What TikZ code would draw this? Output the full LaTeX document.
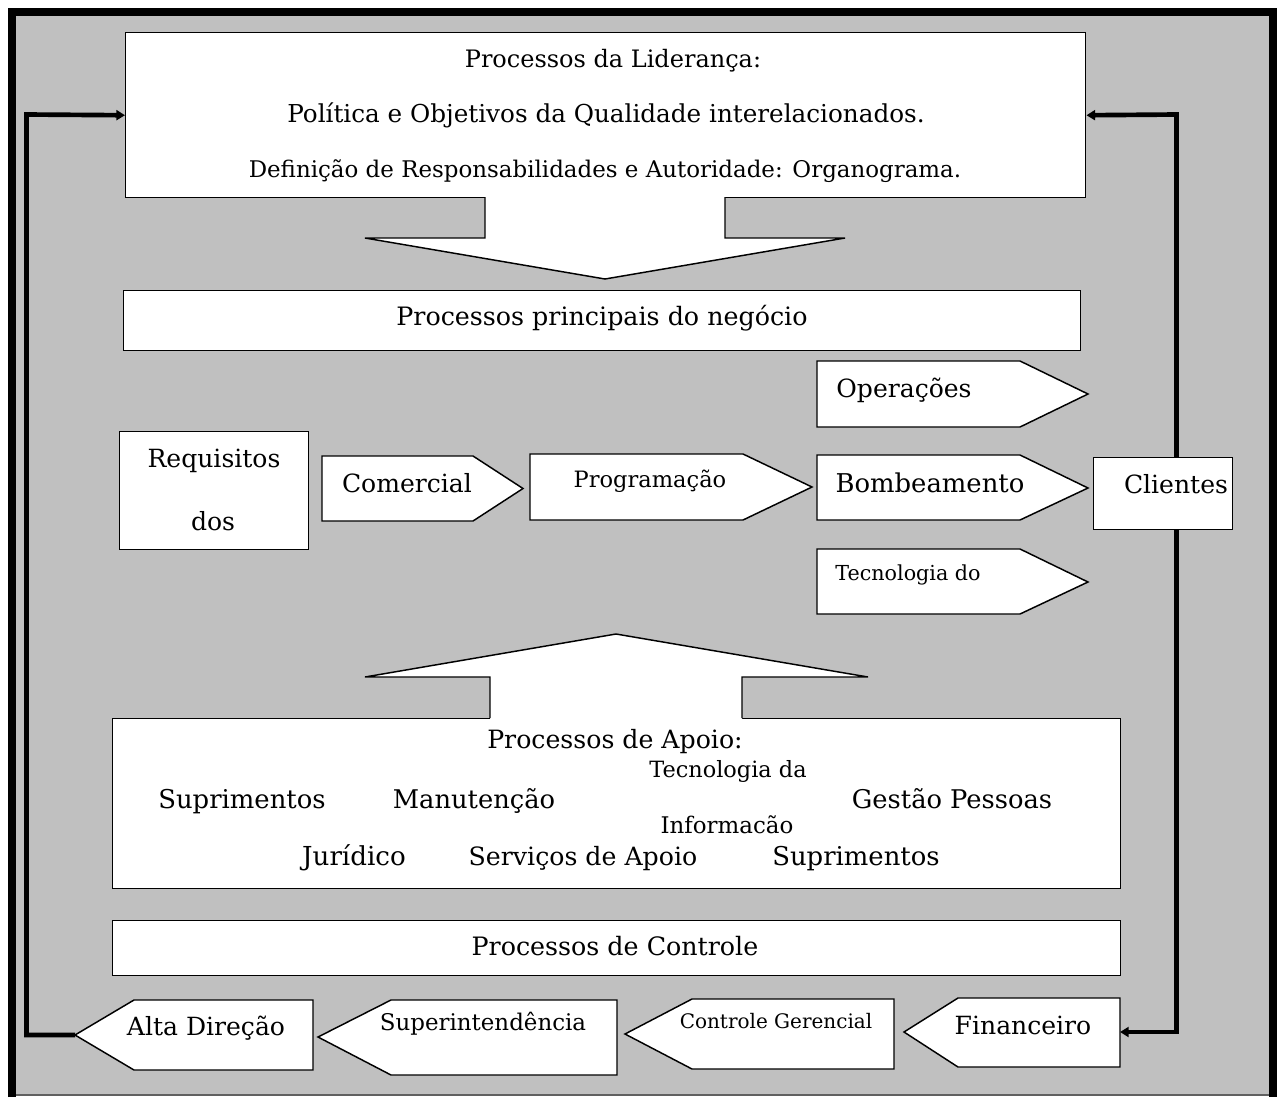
\documentclass[tikz,border=0pt]{standalone}
\usepackage{fontspec}
\setmainfont{DejaVu Serif}
\usetikzlibrary{arrows.meta}
\definecolor{panel}{RGB}{192,192,192}
\definecolor{rim}{RGB}{96,96,96}
\newcommand\setfs[1]{\fontsize{#1pt}{#1pt}\selectfont}
\begin{document}
\begin{tikzpicture}[x=0.75pt,y=-0.75pt,
  box/.style={draw, fill=white, line width=1.1pt, inner sep=0, anchor=north west},
  pent/.style={draw, fill=white, line width=1.1pt, line join=miter},
  blockarrow/.style={draw, line width=1.1pt, line join=miter},
  txt/.style={inner sep=0, anchor=base},
  fb/.style={line width=3.5pt, -{Triangle[length=6.5pt,width=7.5pt]}}]

% page and panel
\fill[white] (0,0) rectangle (1279,1097);
\useasboundingbox (0,0) rectangle (1279,1097);
\fill[panel] (12,12) rectangle (1273,1095);
\draw[rim, line width=0.9pt] (12,1095) -- (1273,1095);
\draw[line width=6pt, line join=miter] (12,1097) -- (12,12) -- (1273,12) -- (1273,1097);

% feedback rails
\coordinate (railL) at (26.5,114.5);
\coordinate (railR) at (1176.5,114.5);
\coordinate (altaTip) at (75,1035);
\coordinate (finEnd) at (1120,1032);

% leadership box
\node[box, minimum width=720pt, minimum height=123.75pt] (lead) at (125,32) {};
\fill[white] (485,190) -- (485,238) -- (365,238) -- (605,279) -- (845,238) -- (725,238) -- (725,190) -- cycle;
\draw[blockarrow] (485,197) -- (485,238) -- (365,238) -- (605,279) -- (845,238) -- (725,238) -- (725,197);
\node[txt] (lead1) at (613,67) {\setfs{18}Processos da Liderança:};
\node[txt] (lead2) at (606,122) {\setfs{18.5}Política e Objetivos da Qualidade interelacionados.};
\node[txt] (lead3) at (605,177) {\setfs{17.2}Definição de Responsabilidades e Autoridade: Organograma.};

% main processes
\node[box, minimum width=717.75pt, minimum height=45pt] (principal) at (123,290) {};
\node[txt] (principalT) at (602,325) {\setfs{19}Processos principais do negócio};

\node[box, minimum width=141.75pt, minimum height=88.5pt] (req) at (119,431) {};
\node[txt] (req1) at (214,467) {\setfs{18.8}Requisitos};
\node[txt] (req2) at (213,530) {\setfs{18.8}dos};

\draw[pent] (322,456) -- (473,456) -- (523,488.5) -- (473,521) -- (322,521) -- cycle;
\node[txt] (com) at (407,492) {\setfs{18.8}Comercial};

\draw[pent] (530,454) -- (743,454) -- (812,487) -- (743,520) -- (530,520) -- cycle;
\node[txt] (prog) at (650,487) {\setfs{16.9}Programação};

\draw[pent] (817,361) -- (1020,361) -- (1088,394) -- (1020,427) -- (817,427) -- cycle;
\node[txt] (oper) at (904,397) {\setfs{18.8}Operações};

\draw[pent] (817,455) -- (1020,455) -- (1088,488) -- (1020,520) -- (817,520) -- cycle;
\node[txt] (bomb) at (930,492) {\setfs{19.4}Bombeamento};

\draw[pent] (817,549) -- (1020,549) -- (1088,582) -- (1020,614) -- (817,614) -- cycle;
\node[txt] (tec) at (908,580) {\setfs{15.5}Tecnologia do};

% feedback from the clients
\draw[fb] (railR |- 0,493) -- (railR) -- (lead.east);
\draw[fb] (railR |- 0,493) |- (finEnd);
\node[box, minimum width=104.25pt, minimum height=54pt] (cli) at (1093,457) {};
\node[txt] (cliT) at (1176,493) {\setfs{18.8}Clientes};

% support processes
\node[box, minimum width=756pt, minimum height=127.5pt] (apoio) at (112,718) {};
\fill[white] (490,725) -- (490,677) -- (365,677) -- (616,634) -- (868,677) -- (742,677) -- (742,725) -- cycle;
\draw[blockarrow] (490,718) -- (490,677) -- (365,677) -- (616,634) -- (868,677) -- (742,677) -- (742,718);
\node[txt] (apoioT) at (615,748) {\setfs{18.9}Processos de Apoio:};
\node[txt] (ti1) at (728,777) {\setfs{16.8}Tecnologia da};
\node[txt] (sup1) at (242,808) {\setfs{19.4}Suprimentos};
\node[txt] (man) at (474,808) {\setfs{19.3}Manutenção};
\node[txt] (gp) at (952,808) {\setfs{19.3}Gestão Pessoas};
\node[txt] (ti2) at (727,833) {\setfs{17.2}Informacão};
\node[txt] (jur) at (354,865) {\setfs{19.6}Jurídico};
\node[txt] (serv) at (583,865) {\setfs{18.9}Serviços de Apoio};
\node[txt] (sup2) at (856,865) {\setfs{19.4}Suprimentos};

% control processes
\node[box, minimum width=756pt, minimum height=41.25pt] (ctrl) at (112,920) {};
\node[txt] (ctrlT) at (615,955) {\setfs{19}Processos de Controle};

\draw[pent] (75,1035) -- (134,1000) -- (313,1000) -- (313,1070) -- (134,1070) -- cycle;
\node[txt] (alta) at (206,1035) {\setfs{18.8}Alta Direção};

\draw[pent] (318,1037) -- (391,1000) -- (617,1000) -- (617,1075) -- (391,1075) -- cycle;
\node[txt] (sup) at (483,1030) {\setfs{17.2}Superintendência};

\draw[pent] (625,1034) -- (692,999) -- (894,999) -- (894,1069) -- (692,1069) -- cycle;
\node[txt] (cg) at (776,1028) {\setfs{15}Controle Gerencial};

\draw[pent] (904,1032) -- (958,998) -- (1120,998) -- (1120,1067) -- (958,1067) -- cycle;
\node[txt] (fin) at (1023,1034) {\setfs{18.8}Financeiro};

% feedback to the leadership
\draw[fb] (altaTip) -| (railL) -- (lead.west);
\end{tikzpicture}
\end{document}
